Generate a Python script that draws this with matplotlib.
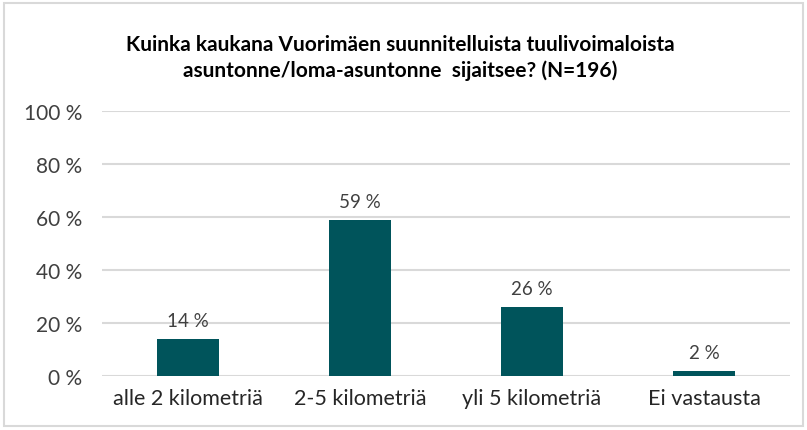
import matplotlib
matplotlib.use("Agg")
import matplotlib.pyplot as plt
from matplotlib.patches import Rectangle

categories = ["alle 2 kilometriä", "2-5 kilometriä", "yli 5 kilometriä", "Ei vastausta"]
values = [14, 59, 26, 2]
yticks = [0, 20, 40, 60, 80, 100]
title = "Kuinka kaukana Vuorimäen suunnitelluista tuulivoimaloista\nasuntonne/loma-asuntonne  sijaitsee? (N=196)"

plt.rcParams['font.family'] = ['Lato', 'DejaVu Sans']

W, H = 807, 431
fig = plt.figure(figsize=(W / 100, H / 100), dpi=100)
fig.patches.append(Rectangle((4 / W, 4 / H), (W - 8) / W, (H - 8) / H, transform=fig.transFigure,
                             fill=False, edgecolor="#d9d9d9", linewidth=1.5))

ax = fig.add_axes([102 / W, 54 / H, 688 / W, 265 / H])
x = range(len(categories))
ax.bar(x, values, width=0.355, color="#00545B", zorder=3)
ax.set_xlim(-0.5, len(categories) - 0.5)
ax.set_ylim(0, 100)
ax.set_yticks(yticks)
ax.set_yticklabels([f"{v} %" for v in yticks], fontsize=15, color="#404040")
ax.set_xticks(list(x))
ax.set_xticklabels(categories, fontsize=15.5, color="#262626")
ax.tick_params(axis="both", length=0)
ax.tick_params(axis="y", pad=14)
ax.tick_params(axis="x", pad=9)
ax.grid(axis="y", color="#d9d9d9", linewidth=1.5, zorder=0)
for s in ax.spines.values():
    s.set_visible(False)

for i, v in enumerate(values):
    ax.annotate(f"{v} %", (i, v), xytext=(0, 7), textcoords="offset points",
                ha="center", va="bottom", fontsize=13.5, color="#404040")

fig.text(0.496, 1 - 58 / H, title, ha="center", va="center", fontsize=15,
         fontweight="bold", color="#000000", linespacing=1.3)

fig.savefig("out.png", dpi=100)
